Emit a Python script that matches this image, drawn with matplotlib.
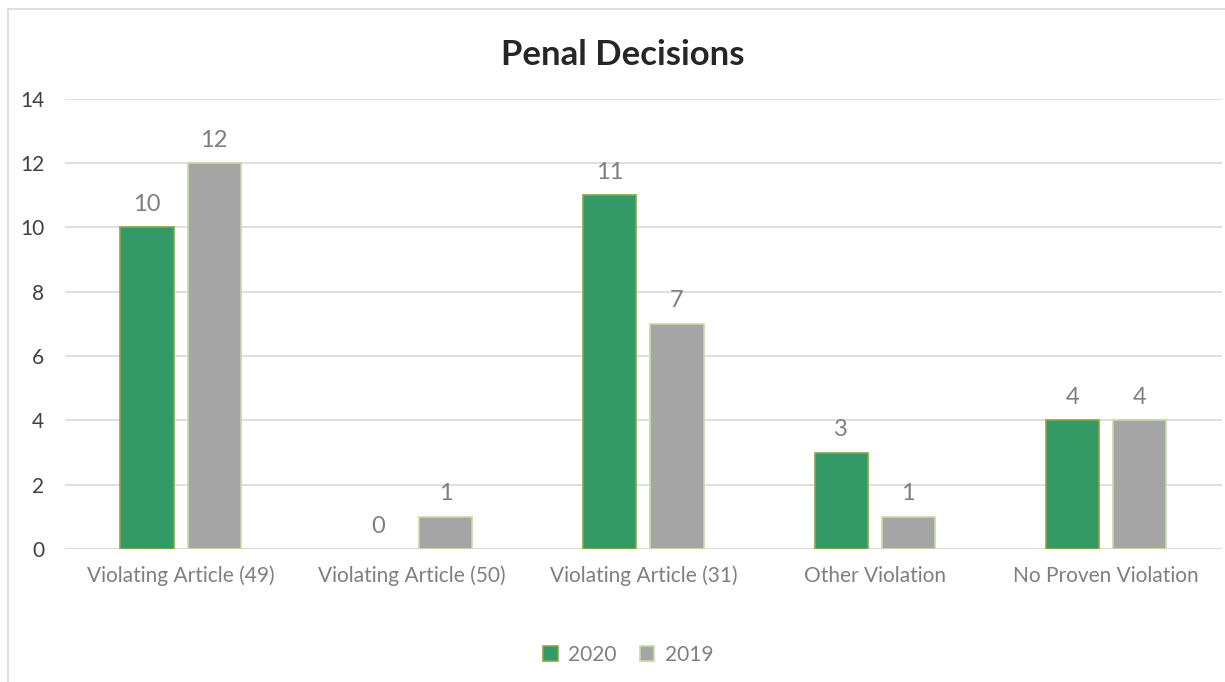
import matplotlib.pyplot as plt
import numpy as np
from matplotlib.patches import Rectangle

categories = ["Violating Article (49)", "Violating Article (50)", "Violating Article (31)",
              "Other Violation", "No Proven Violation"]
vals_2020 = [10, 0, 11, 3, 4]
vals_2019 = [12, 1, 7, 1, 4]
y_ticks = [0, 2, 4, 6, 8, 10, 12, 14]

plt.rcParams['font.family'] = ['Lato', 'DejaVu Sans']

fig = plt.figure(figsize=(12.25, 6.82), dpi=100)
ax = fig.add_axes([0.053, 0.195, 0.9445, 0.66])

# chart area border
fig.patches.append(Rectangle((8 / 1225, -0.05), 1.2, 1 - 9 / 682 + 0.05, transform=fig.transFigure,
                             fill=False, edgecolor='#d9d9d9', linewidth=1.2))

x = np.arange(len(categories))
w = 0.23
off = 0.145
b1 = ax.bar(x - off, vals_2020, w, color='#339966', edgecolor='#8aa64a', linewidth=1.2, label='2020', zorder=3)
b2 = ax.bar(x + off, vals_2019, w, color='#a5a5a5', edgecolor='#c6d9a8', linewidth=1.2, label='2019', zorder=3)

for bars, vals in ((b1, vals_2020), (b2, vals_2019)):
    for r, v in zip(bars, vals):
        if v == 0:
            r.set_linewidth(0)
        ax.annotate(str(v), (r.get_x() + r.get_width() / 2, v), xytext=(0, 9), textcoords='offset points',
                    ha='center', va='bottom', fontsize=17, color='#7f7f7f')

ax.set_xlim(-0.5, len(categories) - 0.5)
ax.set_ylim(0, 14)
ax.set_yticks(y_ticks)
ax.set_xticks(x)
ax.set_xticklabels(categories)
ax.tick_params(axis='y', length=0, labelsize=15, labelcolor='#404040', pad=15)
ax.tick_params(axis='x', length=0, labelsize=15, labelcolor='#7f7f7f', pad=12)
ax.grid(axis='y', color='#d9d9d9', linewidth=1.2, zorder=0)
for s in ax.spines.values():
    s.set_visible(False)
ax.axhline(0, color='#d9d9d9', linewidth=1.2, zorder=2)

fig.text(623 / 1225, 1 - 55 / 682, "Penal Decisions", ha='center', va='center',
         fontsize=25, fontweight='bold', color='#262626')

leg = fig.legend(handles=[b1, b2], labels=['2020', '2019'], loc='center', bbox_to_anchor=(0.513, 0.04),
                 ncol=2, frameon=False, fontsize=15, handlelength=0.7, handleheight=0.7,
                 handletextpad=0.5, columnspacing=1.1)
for t in leg.get_texts():
    t.set_color('#7f7f7f')

fig.savefig("out.png", dpi=100)
